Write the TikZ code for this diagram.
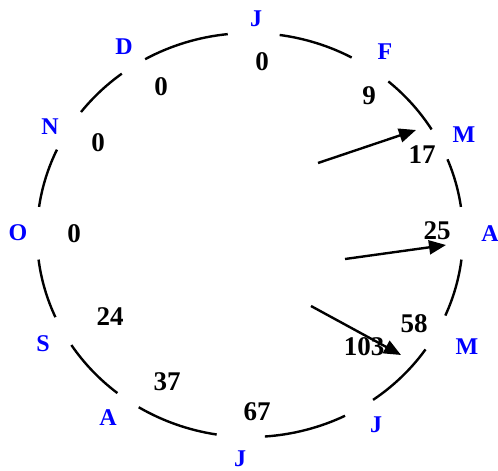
\documentclass[tikz,border=0pt]{standalone}
\usepackage{fontspec}
\setmainfont{Liberation Serif}
\usetikzlibrary{arrows.meta}
\begin{document}
\begin{tikzpicture}[x=1pt,y=-1pt,
  month/.style={text=blue,font=\fontsize{24}{24}\selectfont\bfseries,inner sep=0pt},
  val/.style={text=black,font=\fontsize{27}{27}\selectfont\bfseries,inner sep=0pt},
  rim/.style={line width=2.4pt},
  trend/.style={line width=2.4pt,-{Triangle[length=17pt,width=14pt]}}]
\useasboundingbox (0,0) rectangle (498,471);
\coordinate (c) at (250,235);
% month labels
\node[month] (mJan) at (256,19) {J};
\node[month] (mFeb) at (385,52) {F};
\node[month] (mMar) at (464,135) {M};
\node[month] (mApr) at (490,234) {A};
\node[month] (mMay) at (467,347) {M};
\node[month] (mJun) at (376,425) {J};
\node[month] (mJul) at (240,459) {J};
\node[month] (mAug) at (108,418) {A};
\node[month] (mSep) at (43,344) {S};
\node[month] (mOct) at (18,233) {O};
\node[month] (mNov) at (50,127) {N};
\node[month] (mDec) at (124,47) {D};
% values
\node[val] (vJan) at (262,62) {0};
\node[val] (vFeb) at (369,96) {9};
\node[val] (vMar) at (422,155) {17};
\node[val] (vApr) at (437,231) {25};
\node[val] (vMay) at (414,324) {58};
\node[val] (vJun) at (364,347) {103};
\node[val] (vJul) at (257,412) {67};
\node[val] (vAug) at (167,382) {37};
\node[val] (vSep) at (110,317) {24};
\node[val] (vOct) at (74,234) {0};
\node[val] (vNov) at (98,143) {0};
\node[val] (vDec) at (161,87) {0};
% ring segments between month labels
\foreach \a/\b in {-82/-61.5,-49.5/-31.5,-22/-8,7/23.5,34.5/54.7,63.5/86,99/121.5,128.5/147,156/173,-172/-155,-142.5/-127,-119.5/-96}
  \draw[rim] (c) ++(\a:213 and 202) arc[start angle=\a,end angle=\b,x radius=213,y radius=202];
% arrows
\coordinate (a1s) at (318,163);
\coordinate (a1e) at (416,130);
\coordinate (a2s) at (345,259);
\coordinate (a2e) at (446,245);
\coordinate (a3s) at (311,306);
\coordinate (a3e) at (401,355);
\draw[trend] (a1s) -- (a1e);
\draw[trend] (a2s) -- (a2e);
\draw[trend] (a3s) -- (a3e);
\end{tikzpicture}
\end{document}
